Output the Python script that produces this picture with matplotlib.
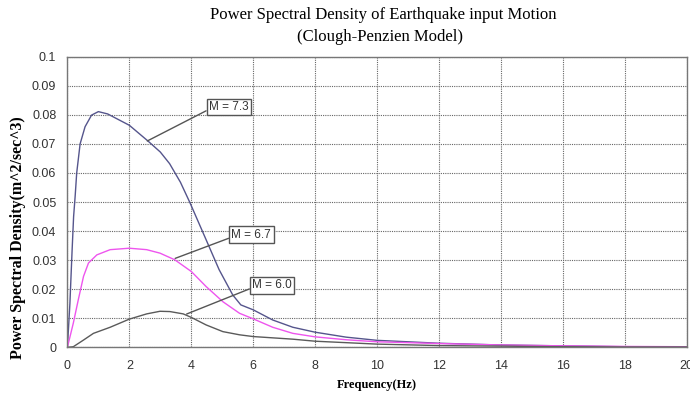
import numpy as np
import matplotlib.pyplot as plt

# values
freq_73 = [0, 0.08, 0.15, 0.2, 0.25, 0.3, 0.41, 0.57, 0.78, 1.0, 1.3, 2.0, 2.6, 3.0, 3.3, 3.65,
           3.96, 4.48, 4.9, 5.34, 5.6, 6.0, 6.63, 7.28, 8, 9, 10, 12, 14, 16, 18, 20]
psd_73 = [0, 0.015, 0.033, 0.045, 0.052, 0.060, 0.070, 0.0759, 0.0799, 0.0811, 0.0803, 0.0764,
          0.071, 0.0672, 0.0632, 0.0568, 0.0497, 0.037, 0.0267, 0.018, 0.0146, 0.0129, 0.0094,
          0.0069, 0.0052, 0.0035, 0.0024, 0.0014, 0.0008, 0.0005, 0.0002, 0.0001]

freq_67 = [0, 0.19, 0.35, 0.52, 0.68, 0.95, 1.38, 2.0, 2.56, 2.99, 3.47, 4.0, 4.48, 5.02,
           5.56, 6.0, 6.63, 7.28, 8, 9, 10, 12, 14, 16, 18, 20]
psd_67 = [0, 0.0083, 0.0163, 0.0244, 0.029, 0.0318, 0.0336, 0.0341, 0.0336, 0.0324, 0.0301,
          0.0261, 0.0209, 0.0157, 0.0117, 0.0098, 0.0069, 0.0048, 0.0036, 0.0026, 0.0019,
          0.0013, 0.0008, 0.0005, 0.0003, 0.0002]

freq_60 = [0, 0.19, 0.52, 0.84, 1.38, 2.0, 2.56, 2.99, 3.31, 3.74, 4.0, 4.48, 5.02, 5.56,
           6.0, 7.28, 8, 10, 12, 14, 16, 18, 20]
psd_60 = [0, 0.0002, 0.0025, 0.0048, 0.0069, 0.0097, 0.0115, 0.0124, 0.0123, 0.0115, 0.0103,
          0.0077, 0.0054, 0.0043, 0.0037, 0.0028, 0.0021, 0.0011, 0.0006, 0.0004, 0.0002,
          0.0001, 0.0001]

labels = ["M = 7.3", "M = 6.7", "M = 6.0"]
label_xy = [(5.21, 0.0827), (5.94, 0.0387), (6.61, 0.0213)]
leader_xy = [(2.58, 0.071), (3.48, 0.0306), (3.85, 0.01145)]

xticks = [0, 2, 4, 6, 8, 10, 12, 14, 16, 18, 20]
yticks = [0, 0.01, 0.02, 0.03, 0.04, 0.05, 0.06, 0.07, 0.08, 0.09, 0.1]
ytick_labels = ["0", "0.01", "0.02", "0.03", "0.04", "0.05", "0.06", "0.07", "0.08", "0.09", "0.1"]

serif = ["Liberation Serif", "DejaVu Serif"]
sans = ["Liberation Sans", "DejaVu Sans"]

fig = plt.figure(figsize=(6.9, 3.94), dpi=100)
ax = fig.add_axes([0.0977, 0.1185, 0.8975, 0.7376])

ax.plot(freq_73, psd_73, color="#55558c", lw=1.0)
ax.plot(freq_67, psd_67, color="#ee55ee", lw=1.0)
ax.plot(freq_60, psd_60, color="#5a5a5a", lw=1.0)

for txt, xy, tip in zip(labels, label_xy, leader_xy):
    ax.annotate(txt, xy=tip, xytext=xy, ha="center", va="center",
                fontsize=8.5, family=sans, color="#333333",
                bbox=dict(boxstyle="square,pad=0.2", fc="white", ec="#555555", lw=1.0),
                arrowprops=dict(arrowstyle="-", color="#555555", lw=1.0,
                                relpos=(0, 0.3), shrinkA=0, shrinkB=0))

ax.set_xlim(0, 20)
ax.set_ylim(0, 0.1)
ax.set_xticks(xticks)
ax.set_yticks(yticks)
ax.set_yticklabels(ytick_labels)
ax.tick_params(length=0, labelsize=9, colors="#333333")
ax.tick_params(axis="y", pad=8)
ax.tick_params(axis="x", pad=9)
for lab in ax.get_xticklabels() + ax.get_yticklabels():
    lab.set_family(sans)

ax.grid(True, linestyle=(0, (1, 1)), color="#666666", lw=0.8)
for sp in ax.spines.values():
    sp.set_color("#777777")
    sp.set_linewidth(1.0)

fig.text(0.546, 0.023, "Frequency(Hz)", family=serif, fontweight="bold", fontsize=9,
         ha="center", va="center")
fig.text(0.026, 0.396, "Power Spectral Density(m^2/sec^3)", family=serif, fontweight="bold",
         fontsize=11.5, rotation=90, ha="center", va="center")

fig.text(0.555, 0.962, "Power Spectral Density of Earthquake input Motion", family=serif,
         fontsize=12, ha="center", va="center")
fig.text(0.551, 0.907, "(Clough-Penzien Model)", family=serif, fontsize=12,
         ha="center", va="center")

plt.savefig("out.png", dpi=100)
